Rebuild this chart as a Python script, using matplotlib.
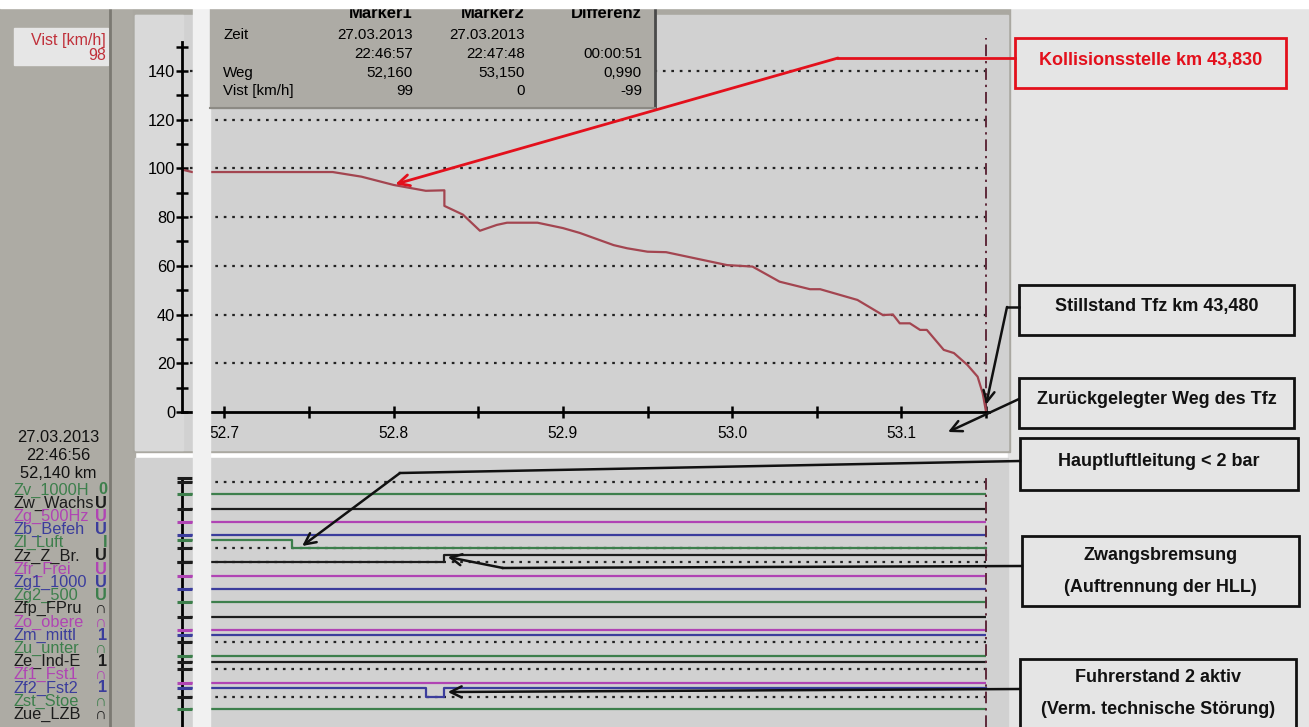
import matplotlib as mpl
mpl.use('Agg')
import matplotlib.pyplot as plt
from matplotlib.patches import Rectangle
from matplotlib.ticker import MultipleLocator, FormatStrFormatter

plt.rcParams['font.family'] = ['Liberation Sans', 'DejaVu Sans']

W, H = 1309, 727

# speed recording: position [km] and Vist [km/h]
weg = [52.675, 52.681, 52.764, 52.781, 52.800, 52.819, 52.830, 52.830, 52.841,
       52.851, 52.861, 52.867, 52.885, 52.900, 52.910, 52.930, 52.938, 52.950,
       52.961, 52.997, 53.012, 53.028, 53.046, 53.052, 53.074, 53.089, 53.095,
       53.099, 53.105, 53.111, 53.115, 53.125, 53.131, 53.139, 53.145, 53.148, 53.150]
vist = [99.5, 98.5, 98.5, 96.6, 93.2, 90.8, 91.0, 84.6, 81.0,
        74.4, 76.8, 77.7, 77.7, 75.5, 73.5, 68.5, 67.2, 65.8,
        65.6, 60.3, 59.7, 53.5, 50.4, 50.4, 46.0, 39.8, 40.0,
        36.4, 36.4, 33.7, 33.7, 25.5, 24.2, 19.3, 14.5, 7.7, 0.0]
v_grid = [20, 40, 60, 80, 100, 120, 140]
marker_km = 53.150

# binary channels (level in panel units, colour key)
G, K, M, B = '#3d7f4c', '#1c1c1c', '#b044b4', '#3b3d9c'
flat_levels = [232.7, 217.7, 205.3, 192.0, 151.0, 137.7, 124.7, 110.3, 97.0, 92.0, 71.0, 65.3, 43.7, 17.7]
flat_colors = [G, K, M, B, M, B, G, K, M, B, G, K, M, G]
dotted_levels = [245.3, 178.7, 165.3, 85.3, 57.7, 30.3]
luft_km = [52.675, 52.740, 52.740, 53.150]
luft_lvl = [187.0, 187.0, 178.7, 178.7]
zbr_km = [52.675, 52.830, 52.830, 53.150]
zbr_lvl = [165.3, 165.3, 172.0, 172.0]
fst2_km = [52.675, 52.819, 52.819, 52.830, 52.830, 53.150]
fst2_lvl = [39.3, 39.3, 30.3, 30.3, 39.3, 39.3]

sig_names = ['Zv_1000H', 'Zw_Wachs', 'Zg_500Hz', 'Zb_Befeh', 'Zl_Luft', 'Zz_Z_Br.',
             'Zfr_Frei', 'Zg1_1000', 'Zg2_500', 'Zfp_FPru', 'Zo_obere', 'Zm_mittl',
             'Zu_unter', 'Ze_Ind-E', 'Zf1_Fst1', 'Zf2_Fst2', 'Zst_Stoe', 'Zue_LZB']
sig_states = ['0', 'U', 'U', 'U', 'I', 'U', 'U', 'U', 'U', '\u2229', '\u2229', '1',
              '\u2229', '1', '\u2229', '1', '\u2229', '\u2229']
sig_colors = [G, K, M, B] * 4 + [G, K]

tab_rows = ['Zeit', '', 'Weg', 'Vist [km/h]']
tab_m1 = ['27.03.2013', '22:46:57', '52,160', '99']
tab_m2 = ['27.03.2013', '22:47:48', '53,150', '0']
tab_diff = ['', '00:00:51', '0,990', '-99']

fig = plt.figure(figsize=(W / 100, H / 100), dpi=100)
fig.patch.set_facecolor('white')


def px_axes(x0, y0, x1, y1, **kw):
    return fig.add_axes([x0 / W, 1 - y1 / H, (x1 - x0) / W, (y1 - y0) / H], **kw)


def px_space(ax):
    ax.set_xlim(0, W)
    ax.set_ylim(H, 0)
    ax.axis('off')


# ---- background panels
bg = px_axes(0, 0, W, H, zorder=0)
px_space(bg)
bg.add_patch(Rectangle((0, 8), 135, H, color='#adaba4'))
bg.add_patch(Rectangle((1008, 8), W - 1008, H, color='#e5e5e5'))
bg.add_patch(Rectangle((133, 8), 877, 444, color='#aaa8a1'))
bg.add_patch(Rectangle((135, 15), 873, 435, color='#d1d1d1'))
bg.add_patch(Rectangle((135, 15), 48, 435, color='#d9d9d9'))
bg.add_patch(Rectangle((135, 458), 873, 270, color='#d1d1d1'))
bg.plot([110, 110], [8, H], color='#7b7972', lw=2)
bg.add_patch(Rectangle((14, 28), 94, 37, color='#e6e6e6'))
bg.text(106, 40, 'Vist [km/h]', color='#c0303a', fontsize=11.5, ha='right', va='center')
bg.text(106, 56, '98', color='#c0303a', fontsize=11.5, ha='right', va='center')
for i, s in enumerate(['27.03.2013', '22:46:56', '52,140 km']):
    bg.text(58, 438 + 17.5 * i, s, fontsize=11.8, ha='center', va='center', color='#111111')
for i, (n, s, c) in enumerate(zip(sig_names, sig_states, sig_colors)):
    y = 490 + 13.2 * i
    bg.text(14, y, n, fontsize=11.8, color=c, ha='left', va='center')
    bg.text(107, y, s, fontsize=11.8, color=c, ha='right', va='center', fontweight='bold')

# ---- speed diagram
ax = px_axes(182, 41.7, 1003, 412, zorder=2)
ax.patch.set_visible(False)
ax.set_xlim(52.675, 53.16)
ax.set_ylim(0, 152)
for s in ['top', 'right']:
    ax.spines[s].set_visible(False)
ax.spines['left'].set_linewidth(2)
ax.spines['bottom'].set_linewidth(2)
ax.spines['bottom'].set_bounds(52.675, 53.152)
ax.hlines(v_grid, 52.68, marker_km, colors='#222222', lw=1.6, linestyles=(0, (1.2, 2.6)))
ax.axvline(marker_km, ymin=0, ymax=1.01, color='#5e2a3a', lw=1.4,
           linestyle=(0, (6, 2.5, 1.2, 2.5)), clip_on=False)
ax.plot(weg, vist, color='#a34550', lw=1.6)
ax.yaxis.set_major_locator(MultipleLocator(20))
ax.yaxis.set_minor_locator(MultipleLocator(10))
ax.xaxis.set_major_locator(MultipleLocator(0.1))
ax.xaxis.set_minor_locator(MultipleLocator(0.05))
ax.xaxis.set_major_formatter(FormatStrFormatter('%.1f'))
ax.tick_params(which='both', direction='inout', length=8, width=1.8)
ax.tick_params(axis='x', pad=6, labelsize=11.2)
ax.tick_params(axis='y', pad=1, labelsize=11.8)

# ---- channel diagram
axs = px_axes(182, 457, 1003, 727, zorder=2)
axs.patch.set_visible(False)
axs.set_xlim(52.675, 53.16)
axs.set_ylim(0, 270)
for s in ['top', 'right', 'bottom']:
    axs.spines[s].set_visible(False)
axs.spines['left'].set_linewidth(2)
axs.spines['left'].set_bounds(0, 249)
axs.set_xticks([])
axs.set_yticks([])
axs.hlines(dotted_levels, 52.68, marker_km, colors='#222222', lw=1.6, linestyles=(0, (1.2, 2.6)))
axs.hlines(flat_levels, 52.68, marker_km, colors=flat_colors, lw=1.6)
axs.plot(luft_km, luft_lvl, color=G, lw=1.6)
axs.plot(zbr_km, zbr_lvl, color=K, lw=1.6)
axs.plot(fst2_km, fst2_lvl, color=B, lw=1.6)
axs.plot([marker_km, marker_km], [0, 249], color='#5e2a3a', lw=1.4,
         linestyle=(0, (6, 2.5, 1.2, 2.5)))
# channel ticks on the left axis, coloured like their trace
tick_lvls = flat_levels + dotted_levels + [luft_lvl[0], zbr_lvl[0], fst2_lvl[0], 249]
tick_cols = flat_colors + [K] * len(dotted_levels) + [G, K, B, K]
axs.scatter([52.6765] * len(tick_lvls), tick_lvls, marker='_', s=130, linewidths=2.2,
            c=tick_cols, clip_on=False, zorder=3)

# ---- overlay: white strip, marker table, callouts
ov = px_axes(0, 0, W, H, zorder=10)
ov.patch.set_visible(False)
px_space(ov)
ov.add_patch(Rectangle((193, 0), 17, H, color='#f1f1f1', zorder=1))
ov.add_patch(Rectangle((210, 0), 445, 108, color='#adaba5', zorder=1))
ov.plot([655, 655], [0, 108], color='#4a4a4a', lw=2, zorder=1)
ov.plot([210, 655], [108, 108], color='#8c8a84', lw=1.5, zorder=1)
for x, h in zip([413, 525, 642], ['Marker1', 'Marker2', 'Differenz']):
    ov.text(x, 18, h, fontsize=12, fontweight='bold', ha='right', va='baseline', zorder=2)
for i, y in enumerate([35, 54, 73, 91]):
    ov.text(223, y, tab_rows[i], fontsize=10.9, ha='left', va='center', zorder=2)
    ov.text(413, y, tab_m1[i], fontsize=10.9, ha='right', va='center', zorder=2)
    ov.text(525, y, tab_m2[i], fontsize=10.9, ha='right', va='center', zorder=2)
    ov.text(642, y, tab_diff[i], fontsize=10.9, ha='right', va='center', zorder=2)
ov.add_patch(Rectangle((0, 0), W, 8, color='white', zorder=3))

RED = '#e3101c'


def callout(x0, y0, x1, y1, lines, ys, color='#111111'):
    ov.add_patch(Rectangle((x0, y0), x1 - x0, y1 - y0, fc='#e5e5e5', ec=color, lw=2, zorder=4))
    for s, y in zip(lines, ys):
        ov.text((x0 + x1) / 2, y, s, color=color, fontsize=13, fontweight='bold',
                ha='center', va='center', zorder=5)


def arrow(xy, xytext, coords, color='#111111', lw=1.8):
    ov.annotate('', xy=xy, xycoords=coords, xytext=xytext, textcoords='data',
                arrowprops=dict(arrowstyle='->', color=color, lw=lw, shrinkA=0, shrinkB=0,
                                mutation_scale=20), zorder=6)


callout(1015, 38, 1286, 88, ['Kollisionsstelle km 43,830'], [60], color=RED)
ov.plot([1015, 838], [58, 58], color=RED, lw=2, zorder=6)
arrow((52.801, 93.5), (838, 58), ax.transData, color=RED, lw=2)

callout(1019, 285, 1294, 335, ['Stillstand Tfz km 43,480'], [307])
ov.plot([1019, 1007], [307, 307], color='#111111', lw=1.8, zorder=6)
arrow((marker_km, 3), (1007, 307), ax.transData)

callout(1019, 378, 1294, 428, ['Zurückgelegter Weg des Tfz'], [400])
arrow((948, 432), (1019, 399), ov.transData)

callout(1020, 438, 1298, 490, ['Hauptluftleitung < 2 bar'], [461])
ov.plot([1020, 400], [461, 473], color='#111111', lw=1.8, zorder=6)
arrow((52.746, 181), (400, 473), axs.transData)

callout(1022, 536, 1299, 606, ['Zwangsbremsung', '(Auftrennung der HLL)'], [555, 587])
ov.plot([1022, 503], [566, 568], color='#111111', lw=1.8, zorder=6)
arrow((52.832, 170), (503, 568), axs.transData)

callout(1020, 659, 1296, 735, ['Fuhrerstand 2 aktiv', '(Verm. technische Störung)'], [678, 710])
arrow((52.832, 35), (1020, 689), axs.transData)

fig.savefig('out.png', dpi=100)
